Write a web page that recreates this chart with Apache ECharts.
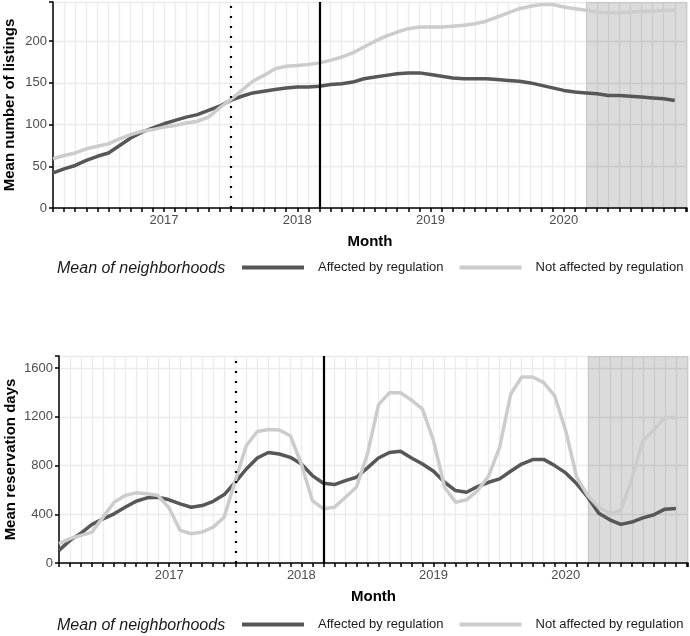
<!DOCTYPE html>
<html><head><meta charset="utf-8">
<script src="https://cdn.jsdelivr.net/npm/echarts@6/dist/echarts.min.js"></script>
<style>html,body{margin:0;padding:0;background:#fff}#c{width:690px;height:636px}</style>
</head><body><div id="c"></div>
<script>
// ---- data ----
const months = [
  '2016-03','2016-04','2016-05','2016-06','2016-07','2016-08','2016-09','2016-10','2016-11','2016-12',
  '2017-01','2017-02','2017-03','2017-04','2017-05','2017-06','2017-07','2017-08','2017-09','2017-10','2017-11','2017-12',
  '2018-01','2018-02','2018-03','2018-04','2018-05','2018-06','2018-07','2018-08','2018-09','2018-10','2018-11','2018-12',
  '2019-01','2019-02','2019-03','2019-04','2019-05','2019-06','2019-07','2019-08','2019-09','2019-10','2019-11','2019-12',
  '2020-01','2020-02','2020-03','2020-04','2020-05','2020-06','2020-07','2020-08','2020-09','2020-10','2020-11'
];
const listingsAffected = [
  42,47,51,57,62,66,75,84,91,96,
  101,105,109,112,117,122,129,134,138,140,142,144,
  145,145,146,148,149,151,155,157,159,161,162,162,
  160,158,156,155,155,155,154,153,152,150,147,144,
  141,139,138,137,135,135,134,133,132,131,129
];
const listingsNotAffected = [
  59,63,66,71,74,77,83,88,92,94,
  97,99,102,104,109,120,130,141,152,159,167,170,
  171,172,174,177,181,186,193,200,206,211,215,217,
  217,217,218,219,221,224,229,234,239,242,244,244,
  241,239,237,235,234,234,235,236,236,237,237
];
const reservAffected = [
  104,186,245,317,363,404,458,507,535,540,
  519,486,458,472,507,562,663,772,862,908,895,868,
  813,718,655,644,677,704,781,862,908,917,862,813,
  753,663,595,581,628,663,691,753,813,849,851,800,
  740,650,540,409,355,317,336,371,396,442,448
];
const reservNotAffected = [
  159,200,227,254,377,499,554,576,568,554,
  450,268,240,254,295,377,677,963,1080,1097,1092,1045,
  813,513,445,458,540,622,895,1299,1399,1399,1337,1263,
  1004,622,499,519,595,715,949,1386,1528,1528,1481,1372,
  1086,704,554,458,409,431,691,1004,1092,1195,1195
];
const yearLabels = ['2016','2017','2018','2019','2020'];
const seriesNames = ['Affected by regulation','Not affected by regulation'];
const legendTitle = 'Mean of neighborhoods';
const announceMonth = '2017-07';   // dotted line
const enactMonth = '2018-03';      // solid line
const covidMonth = '2020-03';      // shaded period start
const axisEndMonth = 59.1;         // right edge of x range (month index)

// ---- helpers ----
const FONT = '"Liberation Sans", Arial, Helvetica, sans-serif';
const DARK = '#575757', LIGHT = '#cccccc';
function mIdx(s){ const p = s.split('-'); return (+p[0]-2016)*12 + (+p[1]-1); }
function pairs(vals){ return months.map((m,i)=>[mIdx(m), vals[i]]); }

function xAxis(g){
  return {
    type:'value', gridIndex:g, min:mIdx(months[0]), max:axisEndMonth, interval:1,
    name:'Month', nameLocation:'middle', nameGap:26, nameMoveOverlap:false,
    nameTextStyle:{fontSize:15, fontWeight:'bold', color:'#000', fontFamily:FONT},
    axisLine:{lineStyle:{color:'#000', width:1.5}},
    axisTick:{show:true, length:4, lineStyle:{color:'#000', width:1.5}},
    axisLabel:{margin:6, fontSize:13, color:'#4d4d4d', fontFamily:FONT,
      formatter:v=>(Number.isInteger(v) && v%12===0) ? yearLabels[v/12] : ''},
    splitLine:{show:true, lineStyle:{color:'#ebebeb', width:1.3}}
  };
}
function yAxis(g, max, step, name, gap){
  return {
    type:'value', gridIndex:g, min:0, max:max, interval:step,
    name:name, nameLocation:'middle', nameGap:gap, nameRotate:90, nameMoveOverlap:false,
    nameTextStyle:{fontSize:15, fontWeight:'bold', color:'#000', fontFamily:FONT},
    axisLine:{show:true, lineStyle:{color:'#000', width:1.5}},
    axisTick:{show:true, length:4, lineStyle:{color:'#000', width:1.5}},
    axisLabel:{margin:6, fontSize:13, color:'#4d4d4d', fontFamily:FONT,
      formatter:v=>(v%step===0) ? String(v) : ''},
    splitLine:{show:true, lineStyle:{color:'#ebebeb', width:1.3}}
  };
}
function lineSeries(g, name, vals, color){
  return {type:'line', name:name, xAxisIndex:g, yAxisIndex:g, data:pairs(vals),
    showSymbol:false, symbol:'none', color:color, lineStyle:{color:color, width:3.5},
    z:3, silent:true, animation:false};
}
function markerSeries(g){
  return [{
    type:'line', xAxisIndex:g, yAxisIndex:g, data:[], z:6, silent:true, animation:false,
    markLine:{symbol:'none', silent:true, animation:false, label:{show:false},
      data:[
        {xAxis:mIdx(announceMonth), lineStyle:{color:'#000', width:2.2, type:[2,8]}},
        {xAxis:mIdx(enactMonth), lineStyle:{color:'#000', width:2.2, type:'solid'}}
      ]}
  },{
    type:'line', xAxisIndex:g, yAxisIndex:g, data:[], z:7, silent:true, animation:false,
    markArea:{silent:true, animation:false, itemStyle:{color:'rgba(0,0,0,0.14)'},
      data:[[{xAxis:mIdx(covidMonth)},{xAxis:axisEndMonth}]]}
  }];
}
function legend(top){
  return {left:242, top:top, padding:0, data:seriesNames, icon:'rect',
    itemWidth:62, itemHeight:4, itemGap:16, selectedMode:false,
    textStyle:{fontSize:13, color:'#1a1a1a', fontFamily:FONT, padding:[0,0,0,9]}};
}

const chart = echarts.init(document.getElementById('c'), null, {renderer:'canvas'});
chart.setOption({
  animation:false,
  grid:[
    {left:53, top:2, width:634, height:206, outerBoundsMode:'none', containLabel:false},
    {left:59, top:356, width:629, height:207, outerBoundsMode:'none', containLabel:false}
  ],
  xAxis:[xAxis(0), xAxis(1)],
  yAxis:[
    yAxis(0, 247, 50, 'Mean number of listings', 36),
    yAxis(1, 1700, 400, 'Mean reservation days', 41)
  ],
  legend:[legend(261), legend(618)],
  graphic:[
    {type:'text', x:57, y:269, style:{text:legendTitle, fontSize:16, fontStyle:'italic', fontFamily:FONT, fill:'#1a1a1a', verticalAlign:'middle'}},
    {type:'text', x:57, y:626, style:{text:legendTitle, fontSize:16, fontStyle:'italic', fontFamily:FONT, fill:'#1a1a1a', verticalAlign:'middle'}}
  ],
  series:[
    lineSeries(0, seriesNames[0], listingsAffected, DARK),
    lineSeries(0, seriesNames[1], listingsNotAffected, LIGHT),
    lineSeries(1, seriesNames[0], reservAffected, DARK),
    lineSeries(1, seriesNames[1], reservNotAffected, LIGHT),
    ...markerSeries(0),
    ...markerSeries(1)
  ]
});
</script>
</body></html>
